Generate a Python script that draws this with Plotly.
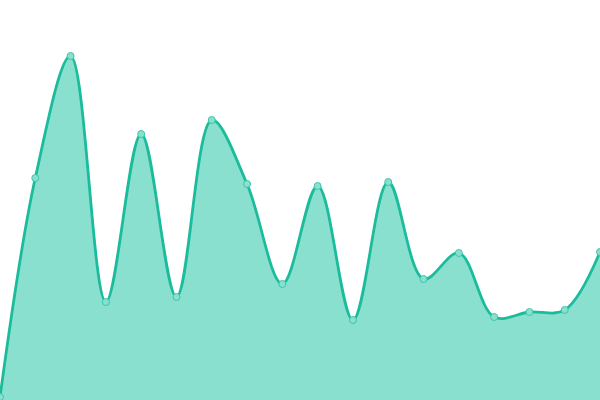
import plotly.graph_objects as go

x_index = list(range(18))
values = [3, 222, 344, 98, 266, 103, 280, 216, 116, 214, 80, 218, 121, 147, 83, 88, 90, 148]

fig = go.Figure()
fig.add_trace(go.Scatter(
    x=x_index, y=values,
    mode="lines+markers",
    line=dict(shape="spline", smoothing=1.0, color="#1abc9c", width=2.8),
    fill="tozeroy",
    fillcolor="#8ae0cf",
    marker=dict(size=7, color="#8ae0cf", line=dict(color="#3cc6aa", width=1)),
    cliponaxis=False,
    hoverinfo="skip",
))
fig.update_layout(
    width=600, height=400,
    margin=dict(l=0, r=0, t=0, b=0),
    paper_bgcolor="white", plot_bgcolor="white",
    showlegend=False,
    xaxis=dict(visible=False, range=[0, 17], fixedrange=True),
    yaxis=dict(visible=False, range=[0, 400], fixedrange=True),
)
fig.write_html(
    "out.html",
    config={"displayModeBar": False},
    post_script="document.body.style.margin='0';document.body.style.overflow='hidden';",
)
